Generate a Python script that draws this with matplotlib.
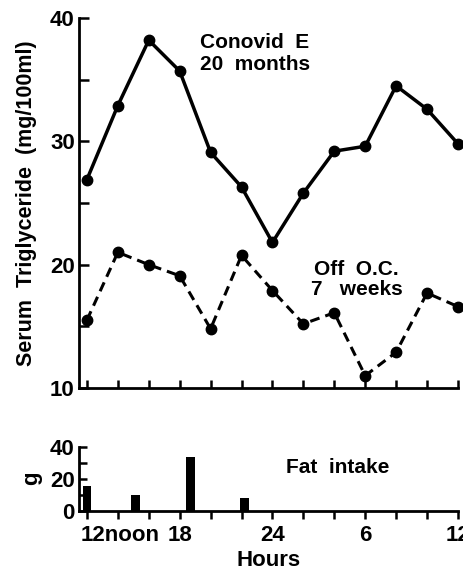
import matplotlib.pyplot as plt
import matplotlib.transforms as mtransforms
import numpy as np

plt.rcParams['font.family'] = ['Liberation Sans', 'DejaVu Sans']
plt.rcParams['font.weight'] = 'bold'
plt.rcParams['axes.labelweight'] = 'bold'

hours = [12, 14, 16, 18, 20, 22, 24, 26, 28, 30, 32, 34, 36]
conovid = [26.9, 32.9, 38.2, 35.7, 29.1, 26.3, 21.8, 25.8, 29.2, 29.6, 34.5, 32.6, 29.8]
off_oc = [15.5, 21.0, 20.0, 19.1, 14.8, 20.75, 17.9, 15.2, 16.1, 11.0, 12.9, 17.7, 16.6]

meal_hours = [12.0, 15.15, 18.7, 22.2]
fat_intake = [15.6, 9.6, 33.8, 8.1]

tick_hours = [12, 18, 24, 30, 36]
tick_names = ['12noon', '18', '24', '6', '12']

fig = plt.figure(figsize=(4.64, 5.71), dpi=100)
ax = fig.add_axes([0.170, 0.3205, 0.817, 0.648])
ax2 = fig.add_axes([0.170, 0.1056, 0.817, 0.1121])

ax.plot(hours, conovid, color='black', lw=2.5, marker='o', ms=7.5, clip_on=False)
ax.plot(hours, off_oc, color='black', lw=2.2, ls=(0, (3.2, 2.0)), marker='o', ms=7.5, clip_on=False)

ax.set_xlim(11.48, 36)
ax.set_ylim(10, 40)
ax.set_yticks([10, 20, 30, 40])
ax.set_yticks([15, 25, 35], minor=True)
ax.set_xticks(hours)
ax.set_xticklabels([])
ax.tick_params(axis='both', which='both', direction='in', width=1.8, labelsize=16)
ax.tick_params(axis='y', which='major', length=7, pad=3)
ax.tick_params(axis='y', which='minor', length=7)
ax.tick_params(axis='x', length=6)
for s in ['top', 'right']:
    ax.spines[s].set_visible(False)
for s in ['left', 'bottom']:
    ax.spines[s].set_linewidth(2)
ax.set_ylabel('Serum  Triglyceride  (mg/100ml)', fontsize=15.5, labelpad=9)

ax.text(19.3, 38.05, 'Conovid  E', fontsize=15, va='center')
ax.text(19.3, 36.2, '20  months', fontsize=15, va='center')
ax.text(26.7, 19.6, 'Off  O.C.', fontsize=15, va='center')
ax.text(26.5, 17.95, '7   weeks', fontsize=15, va='center')

ax2.bar(meal_hours, fat_intake, width=0.55, color='black')
ax2.set_xlim(11.48, 36)
ax2.set_ylim(0, 40)
ax2.set_yticks([0, 20, 40])
ax2.set_yticks([10, 30], minor=True)
ax2.set_xticks(hours, minor=True)
ax2.set_xticks(tick_hours)
ax2.set_xticklabels(tick_names)
ax2.tick_params(axis='y', which='both', direction='in', length=6, width=1.8, labelsize=16, pad=3)
ax2.tick_params(axis='x', which='both', direction='out', length=6, width=1.8, labelsize=16, pad=4)
first = ax2.get_xticklabels()[0]
first.set_ha('left')
first.set_transform(first.get_transform() + mtransforms.ScaledTranslation(-0.06, 0, fig.dpi_scale_trans))
for s in ['top', 'right']:
    ax2.spines[s].set_visible(False)
for s in ['left', 'bottom']:
    ax2.spines[s].set_linewidth(2)
ax2.set_ylabel('g', fontsize=16, labelpad=6)
ax2.set_xlabel('Hours', fontsize=16, labelpad=3)
ax2.text(24.9, 27, 'Fat  intake', fontsize=15, va='center')

plt.savefig('out.png', dpi=100)
